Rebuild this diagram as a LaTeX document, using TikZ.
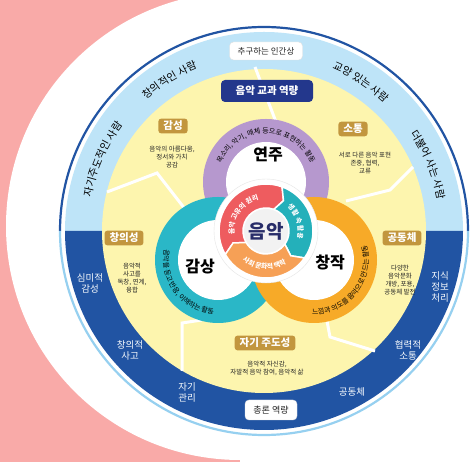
\documentclass[tikz,border=0pt]{standalone}
\usepackage{fontspec}
\setmainfont{Noto Sans CJK KR}
\usepackage{tikz}
\usetikzlibrary{positioning, calc, decorations.text}
\definecolor{BgPink}{RGB}{249,170,168}
\definecolor{SkyBand}{RGB}{190,228,248}
\definecolor{SkyLine}{RGB}{150,208,240}
\definecolor{DeepBand}{RGB}{33,84,163}
\definecolor{LemonFill}{RGB}{253,245,174}
\definecolor{GoldTag}{RGB}{194,150,62}
\definecolor{NavyTag}{RGB}{35,55,140}
\definecolor{RingPurple}{RGB}{182,152,206}
\definecolor{RingTeal}{RGB}{42,183,199}
\definecolor{RingOrange}{RGB}{247,170,40}
\definecolor{CycRed}{RGB}{238,92,95}
\definecolor{CycTeal}{RGB}{36,176,186}
\definecolor{CycOrange}{RGB}{246,160,86}
\definecolor{CoreNavy}{RGB}{40,45,105}
\newcommand\bandfont{\fontsize{10.5}{10.5}\selectfont}
\newcommand\ringfont{\fontsize{7}{7}\selectfont}
\newcommand\cycfont{\fontsize{6.8}{6.8}\selectfont\bfseries}

\begin{document}
\begin{tikzpicture}[x=1pt, y=1pt,
          tag/.style={rectangle, rounded corners=3pt, fill=GoldTag, text=white,
                      font=\fontsize{10.5}{12}\selectfont\bfseries, inner xsep=5pt, inner ysep=2.5pt},
          note/.style={font=\fontsize{6.5}{8}\selectfont, align=center, text=black!85},
          deep/.style={font=\fontsize{9.5}{11}\selectfont, align=center, text=white!90!SkyBand},
          plate/.style={rectangle, rounded corners=4pt, fill=white, draw=black!12,
                        font=\fontsize{8.5}{10}\selectfont, text=black!85, minimum height=18},
          ringname/.style={font=\fontsize{16}{16}\selectfont\bfseries, text=black},
          divider/.style={white, line width=3pt},
          arctext/.style={decorate, decoration={text along path, text align=center, text={#1}}}
        ]
        % Background
        \useasboundingbox (0,0) rectangle (474,462);
        \fill[BgPink] (0,0) rectangle (240,462);
        \fill[white] (240,236) circle[radius=234];

        % Outer bands
        \coordinate (o) at (264,231);
        \fill[SkyBand] ([shift={(0:199)}]o) arc[start angle=0, end angle=180, radius=199] -- cycle;
        \fill[DeepBand] ([shift={(180:199)}]o) arc[start angle=180, end angle=360, radius=199] -- cycle;
        \draw[DeepBand, line width=2.2pt] ([shift={(0:204)}]o) arc[start angle=0, end angle=180, radius=204];
        \draw[SkyLine, line width=2.2pt] ([shift={(180:204)}]o) arc[start angle=180, end angle=360, radius=204];
        \fill[LemonFill] (o) circle[radius=162];

        % Dividers
        \draw[divider] (255,395) -- (276,340);
        \draw[divider] (107,270) -- (157,289) -- (185,253);
        \draw[divider] (413,295) -- (390,272) -- (346,261);
        \draw[divider] (182,91) -- (182,139) -- (202,142);
        \draw[divider] (375,111) -- (330,125) -- (327,141);

        % Human images
        \path[arctext={|\bandfont|자기주도적인 사람}]
              ([shift={(186:176)}]o) arc[start angle=186, end angle=126, radius=176];
        \path[arctext={|\bandfont|창의적인 사람}]
              ([shift={(152:176)}]o) arc[start angle=152, end angle=92, radius=176];
        \path[arctext={|\bandfont|교양 있는 사람}]
              ([shift={(87:176)}]o) arc[start angle=87, end angle=27, radius=176];
        \path[arctext={|\bandfont|더불어 사는 사람}]
              ([shift={(52:176)}]o) arc[start angle=52, end angle=-8, radius=176];
        \node[plate, minimum width=73] (goal) at (266,411) {추구하는 인간상};

        % General competencies
        \node[deep] (aes) at (90,179) {심미적\\감성};
        \node[deep] (crt) at (130,112) {창의적\\사고};
        \node[deep] (self) at (187,70) {자기\\관리};
        \node[deep] (comm) at (352,70) {공동체};
        \node[deep] (coop) at (408,112) {협력적\\소통};
        \node[deep] (know) at (440,175) {지식\\정보\\처리};
        \node[plate, minimum width=52, minimum height=20, font=\fontsize{9}{10}\selectfont]
              (gen) at (271,52) {총론 역량};

        % Subject competencies
        \node[rectangle, rounded corners=4pt, fill=NavyTag, text=white, minimum width=92,
              minimum height=22, font=\fontsize{10.5}{12}\selectfont\bfseries]
              (subj) at (267,371) {음악 교과 역량};
        \node[tag] (emo) at (173,336) {감성};
        \node[note] (emotxt) at (172,305) {음악의 아름다움,\\정서와 가치\\공감};
        \node[tag] (talk) at (353,333) {소통};
        \node[note] (talktxt) at (365,299) {서로 다른 음악 표현\\존중, 협력,\\교류};
        \node[tag] (crea) at (124,224) {창의성};
        \node[note] (creatxt) at (132,184) {음악적\\사고를\\독창, 연계,\\융합};
        \node[tag] (team) at (402,224) {공동체};
        \node[note] (teamtxt) at (400,182) {다양한\\음악문화\\개방, 포용,\\공동체 발전};
        \node[tag] (lead) at (265,119) {자기 주도성};
        \node[note] (leadtxt) at (267,94) {음악적 자신감,\\자발적 음악 참여, 음악적 삶};

        % Activity rings
        \coordinate (yj) at (266,280);
        \coordinate (gs) at (218,202);
        \coordinate (cj) at (314,202);
        \coordinate (cy) at (266,231);
        \fill[RingPurple] (yj) circle[radius=63];
        \fill[RingTeal] (gs) circle[radius=63];
        \fill[RingOrange] (cj) circle[radius=63];
        \foreach \c in {yj, gs, cj}
          \fill[white] (\c) circle[radius=40];
        \path[arctext={|\ringfont|목소리{,} 악기{,} 매체 등으로 표현하는 활동}]
              ([shift={(200:48.5)}]yj) arc[start angle=200, end angle=-20, radius=48.5];
        \path[arctext={|\ringfont|음악을 듣고 반응{,} 이해하는 활동}]
              ([shift={(115:54.5)}]gs) arc[start angle=115, end angle=319, radius=54.5];
        \path[arctext={|\ringfont|느낌과 의도를 음악으로 만드는 활동}]
              ([shift={(248:54.5)}]cj) arc[start angle=248, end angle=396, radius=54.5];
        \node[ringname] (play) at (268,307) {연주};
        \node[ringname] (listen) at (200,195) {감상};
        \node[ringname] (make) at (330,199) {창작};

        % Music cycle
        \fill[white, draw=black!10] (cy) circle[radius=52];
        \foreach \sa/\ea/\col in {210/70/CycRed, 70/-35/CycTeal, -35/-150/CycOrange}
          \filldraw[fill=\col, draw=white, line width=1.5pt]
              ([shift={(\sa:47)}]cy) arc[start angle=\sa, end angle=\ea, radius=47]
              -- ([shift={(\ea-10:35)}]cy) -- ([shift={(\ea:23)}]cy)
              arc[start angle=\ea, end angle=\sa, radius=23]
              -- ([shift={(\sa-10:35)}]cy) -- cycle;
        \path[arctext={|\cycfont|음악 고유의 원리}, decoration={text color=white}]
              ([shift={(212:32)}]cy) arc[start angle=212, end angle=78, radius=32];
        \path[arctext={|\cycfont|생활 속 활용}, decoration={text color=white}]
              ([shift={(62:32)}]cy) arc[start angle=62, end angle=-27, radius=32];
        \path[arctext={|\cycfont|사회 문화적 맥락}, decoration={text color=white}]
              ([shift={(203:38)}]cy) arc[start angle=203, end angle=331, radius=38];
        \node[circle, fill=black!5, minimum size=44, inner sep=0pt, text=CoreNavy,
              font=\fontsize{19}{19}\selectfont\bfseries] (core) at (cy) {음악};
      \end{tikzpicture}
\end{document}
